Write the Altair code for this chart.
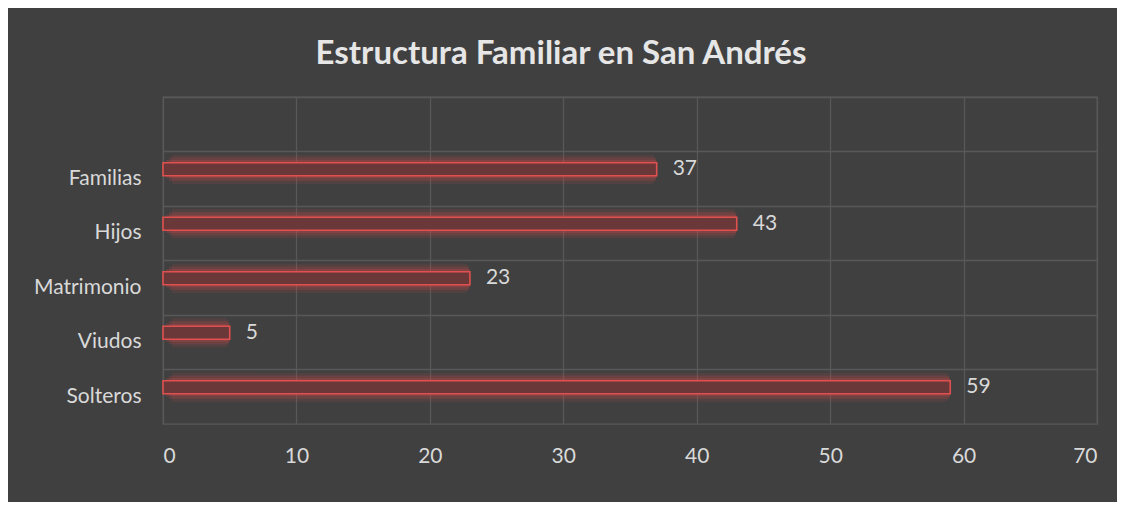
import altair as alt
import pandas as pd

categories = ["Familias", "Hijos", "Matrimonio", "Viudos", "Solteros"]
values = [37, 43, 23, 5, 59]
domain = [" "] + categories
x_ticks = [0, 10, 20, 30, 40, 50, 60, 70]

df = pd.DataFrame({"cat": categories, "val": values})

FONT = "Lato"
TXT = "#D9D9D9"
GRID = "#585858"

y_enc = alt.Y("cat:N", scale=alt.Scale(domain=domain, paddingInner=0, paddingOuter=0),
              sort=domain,
              axis=alt.Axis(title=None, grid=True, gridColor=GRID, gridWidth=1.3,
                            bandPosition=0, domain=False, ticks=False,
                            labelColor=TXT, labelFont=FONT, labelFontSize=21,
                            labelPadding=22))
x_enc = alt.X("val:Q", scale=alt.Scale(domain=[0, 70], nice=False),
              axis=alt.Axis(title=None, values=x_ticks, grid=True, gridColor=GRID,
                            gridWidth=1.3, domain=False, ticks=False,
                            labelColor=TXT, labelFont=FONT, labelFontSize=21,
                            labelPadding=21))

base = alt.Chart(df)

glow1 = base.mark_bar(height=30, yOffset=-9.5, x2Offset=9, color="#D84848", opacity=0.12,
                      cornerRadiusEnd=7).encode(y=y_enc, x=x_enc, x2=alt.value(0))
glow2 = base.mark_bar(height=24, yOffset=-9.5, x2Offset=6, color="#D84848", opacity=0.18,
                      cornerRadiusEnd=5).encode(y=y_enc, x=x_enc, x2=alt.value(0))
glow3 = base.mark_bar(height=19, yOffset=-9.5, x2Offset=3, color="#D84848", opacity=0.22,
                      cornerRadiusEnd=3).encode(y=y_enc, x=x_enc, x2=alt.value(0))
bars = base.mark_bar(height=13, yOffset=-9.5, fill="#6A3838", stroke="#E0504E",
                     strokeWidth=1.6).encode(y=y_enc, x=x_enc, x2=alt.value(0))
labels = base.mark_text(align="left", baseline="middle", dx=16, dy=-9.5,
                        font=FONT, fontSize=21, color=TXT).encode(
    y=y_enc, x=x_enc, text="val:Q")

chart = alt.layer(glow1, glow2, glow3, bars, labels).properties(
    width=934, height=327,
    padding={"left": 155, "top": 89, "right": 20, "bottom": 78},
    autosize=alt.AutoSizeParams(type="none"),
    background="#404040",
    title=alt.Title("Estructura Familiar en San Andrés", font=FONT, fontSize=33,
                    fontWeight="bold", color="#E6E6E6", anchor="middle", offset=26,
                    dx=-69),
).configure_view(stroke=GRID, strokeWidth=1.3)

chart.save("out.html", embed_options={"renderer": "svg", "actions": False})
